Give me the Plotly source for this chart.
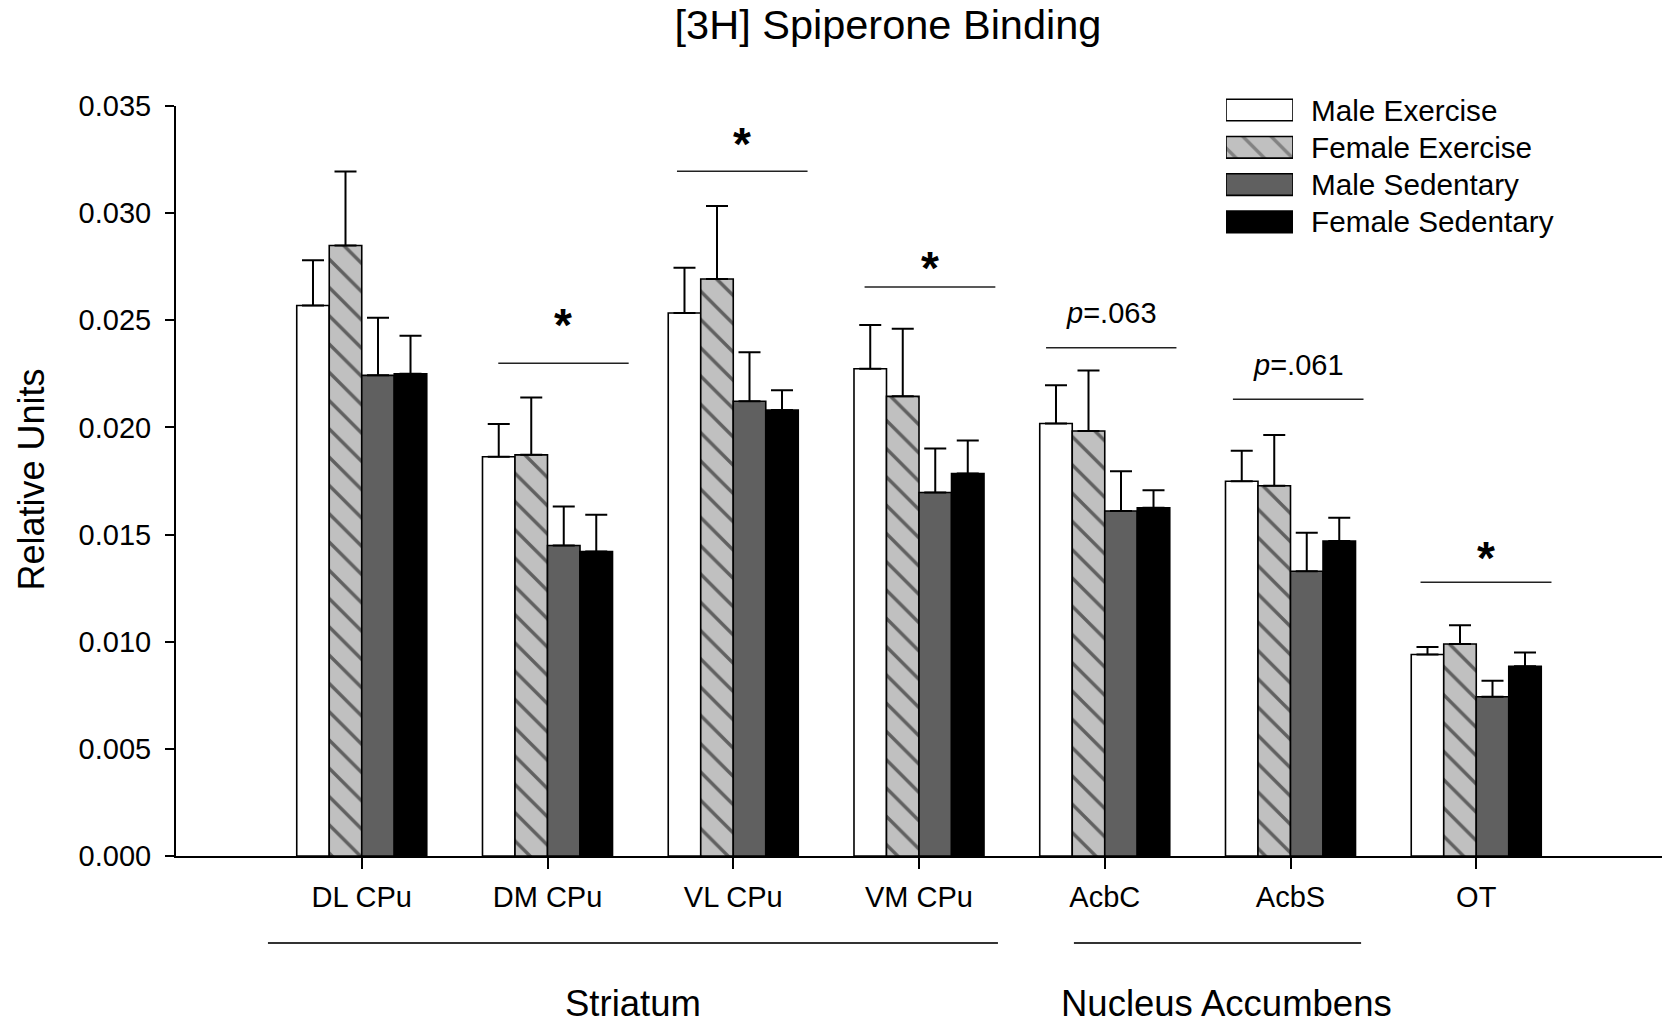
import plotly.graph_objects as go

# ---------------- data ----------------
regions = ["DL CPu", "DM CPu", "VL CPu", "VM CPu", "AcbC", "AcbS", "OT"]
series_names = ["Male Exercise", "Female Exercise", "Male Sedentary", "Female Sedentary"]

male_exercise = [0.02569, 0.01863, 0.02534, 0.02274, 0.02018, 0.01749, 0.00940]
female_exercise = [0.02849, 0.01872, 0.02693, 0.02145, 0.01983, 0.01728, 0.00989]
male_sedentary = [0.02243, 0.01449, 0.02122, 0.01696, 0.01610, 0.01329, 0.00743]
female_sedentary = [0.02250, 0.01421, 0.02081, 0.01785, 0.01625, 0.01470, 0.00885]

male_exercise_sem = [0.00211, 0.00153, 0.00211, 0.00204, 0.00179, 0.00142, 0.00035]
female_exercise_sem = [0.00345, 0.00268, 0.00340, 0.00315, 0.00283, 0.00237, 0.00088]
male_sedentary_sem = [0.00269, 0.00182, 0.00229, 0.00206, 0.00185, 0.00180, 0.00075]
female_sedentary_sem = [0.00178, 0.00172, 0.00093, 0.00154, 0.00082, 0.00109, 0.00065]

y_ticks = [0.000, 0.005, 0.010, 0.015, 0.020, 0.025, 0.030, 0.035]

# significance markers: label, line start/end (category units), line height
sig_labels = ["*", "*", "*", "p=.063", "p=.061", "*"]
sig_x0 = [0.735, 1.697, 2.707, 3.684, 4.690, 5.700]
sig_x1 = [1.437, 2.400, 3.411, 4.386, 5.393, 6.405]
sig_y = [0.02300, 0.03196, 0.02655, 0.02372, 0.02131, 0.01277]

group_labels = ["Striatum", "Nucleus Accumbens"]
group_x0 = [-0.505, 3.834]
group_x1 = [3.425, 5.380]
group_text_x = [1.460, 4.658]

# ---------------- style / layout ----------------
FONT = "Liberation Sans, Arial, sans-serif"
fills = ["#ffffff", "#c0c0c0", "#606060", "#000000"]
shapes_pat = ["", "\\", "", ""]
values = [male_exercise, female_exercise, male_sedentary, female_sedentary]
sems = [male_exercise_sem, female_exercise_sem, male_sedentary_sem, female_sedentary_sem]
label_shift = [10, -1, -9, 17, 16, -4]   # px offset of each label above its line

W, H = 1662, 1026
ML, MR, MT, MB = 176, 0, 90, 1026 - 856
plot_w = W - ML - MR
plot_h = H - MT - MB
y_top_px = 106
main_dom_top = (H - MB - y_top_px) / plot_h


def xfrac(px):
    return (px - ML) / plot_w


def yfrac(py):
    return (H - MB - py) / plot_h


fig = go.Figure()

PAT = dict(size=20, solidity=0.17)

for name, vals, err, col, pat in zip(series_names, values, sems, fills, shapes_pat):
    marker = dict(color=col, line=dict(color="black", width=1.6))
    if pat:
        marker["pattern"] = dict(shape=pat, fgcolor="black", bgcolor=col, **PAT)
    fig.add_trace(go.Bar(
        x=regions, y=vals, name=name, marker=marker,
        error_y=dict(type="data", array=err, arrayminus=[0] * len(err),
                     symmetric=False, color="black", thickness=2, width=11),
        showlegend=False,
    ))

# custom legend: swatches drawn as bars on an auxiliary axis
legend_rows = list(range(len(series_names)))
fig.add_trace(go.Bar(
    x=[1] * len(series_names), y=legend_rows, orientation="h",
    xaxis="x2", yaxis="y2", width=0.58, base=0,
    marker=dict(color=fills, line=dict(color="black", width=1.6),
                pattern=dict(shape=shapes_pat, fgcolor="black", bgcolor=fills, **PAT)),
    showlegend=False, hoverinfo="skip",
))

annotations = []
shapes = []

row0, row_step = 110.0, 37.3
for i, name in enumerate(series_names):
    annotations.append(dict(
        x=xfrac(1309), y=yfrac(row0 + i * row_step), xref="paper", yref="paper",
        text=name, showarrow=False, xanchor="left", yanchor="middle",
        font=dict(family=FONT, size=29.7, color="black")))

for lab, x0, x1, yv, sh in zip(sig_labels, sig_x0, sig_x1, sig_y, label_shift):
    shapes.append(dict(type="line", xref="x", yref="y", x0=x0, x1=x1, y0=yv, y1=yv,
                       line=dict(color="#222222", width=1.5)))
    if lab == "*":
        annotations.append(dict(
            x=(x0 + x1) / 2, y=yv, xref="x", yref="y", text="<b>*</b>",
            showarrow=False, xanchor="center", yanchor="bottom", yshift=sh,
            font=dict(family=FONT, size=46, color="black")))
    else:
        annotations.append(dict(
            x=(x0 + x1) / 2, y=yv, xref="x", yref="y",
            text="<i>p</i>" + lab[1:], showarrow=False, xanchor="center",
            yanchor="bottom", yshift=sh,
            font=dict(family=FONT, size=29, color="black")))

for lab, x0, x1, tx in zip(group_labels, group_x0, group_x1, group_text_x):
    shapes.append(dict(type="line", xref="x", yref="paper", x0=x0, x1=x1,
                       y0=yfrac(943), y1=yfrac(943),
                       line=dict(color="#333333", width=2)))
    annotations.append(dict(
        x=tx, y=yfrac(1003), xref="x", yref="paper", text=lab,
        showarrow=False, xanchor="center", yanchor="middle",
        font=dict(family=FONT, size=36.5, color="black")))

annotations.append(dict(
    x=xfrac(32), y=yfrac(479.6), xref="paper", yref="paper",
    text="Relative Units", textangle=-90, showarrow=False,
    xanchor="center", yanchor="middle",
    font=dict(family=FONT, size=36, color="black")))

fig.update_layout(
    width=W, height=H,
    margin=dict(l=ML, r=MR, t=MT, b=MB, pad=0),
    paper_bgcolor="white", plot_bgcolor="white",
    barmode="group", bargap=0.30, bargroupgap=0.0,
    font=dict(family=FONT, color="black"),
    title=dict(text="[3H] Spiperone Binding", x=888 / W, xref="container",
               y=1 - 24 / H, yref="container", xanchor="center",
               yanchor="middle", font=dict(family=FONT, size=41.5, color="black")),
    xaxis=dict(
        type="category", range=[-1, 7], showline=True, linecolor="black",
        linewidth=2, ticks="outside", ticklen=11, tickwidth=2, tickcolor="black",
        tickfont=dict(family=FONT, size=29, color="black"), showgrid=False,
        zeroline=False, fixedrange=True, ticklabelstandoff=3,
    ),
    yaxis=dict(
        range=[0, 0.035], domain=[0, main_dom_top], tickvals=y_ticks,
        tickformat=".3f", showline=True, linecolor="black", linewidth=2,
        ticks="outside", ticklen=9, tickwidth=2, tickcolor="black",
        tickfont=dict(family=FONT, size=29, color="black"), showgrid=False,
        zeroline=False, ticklabelstandoff=8, fixedrange=True,
    ),
    xaxis2=dict(domain=[xfrac(1226), xfrac(1293)], range=[0, 1],
                anchor="y2", visible=False, fixedrange=True),
    yaxis2=dict(domain=[yfrac(row0 + 3.5 * row_step), yfrac(row0 - 0.5 * row_step)],
                range=[3.5, -0.5], anchor="x2", visible=False, fixedrange=True),
    annotations=annotations, shapes=shapes,
)

fig.write_html("out.html",
               config={"displayModeBar": False},
               post_script="document.body.style.margin='0px';"
                           "document.body.style.overflow='hidden';")
